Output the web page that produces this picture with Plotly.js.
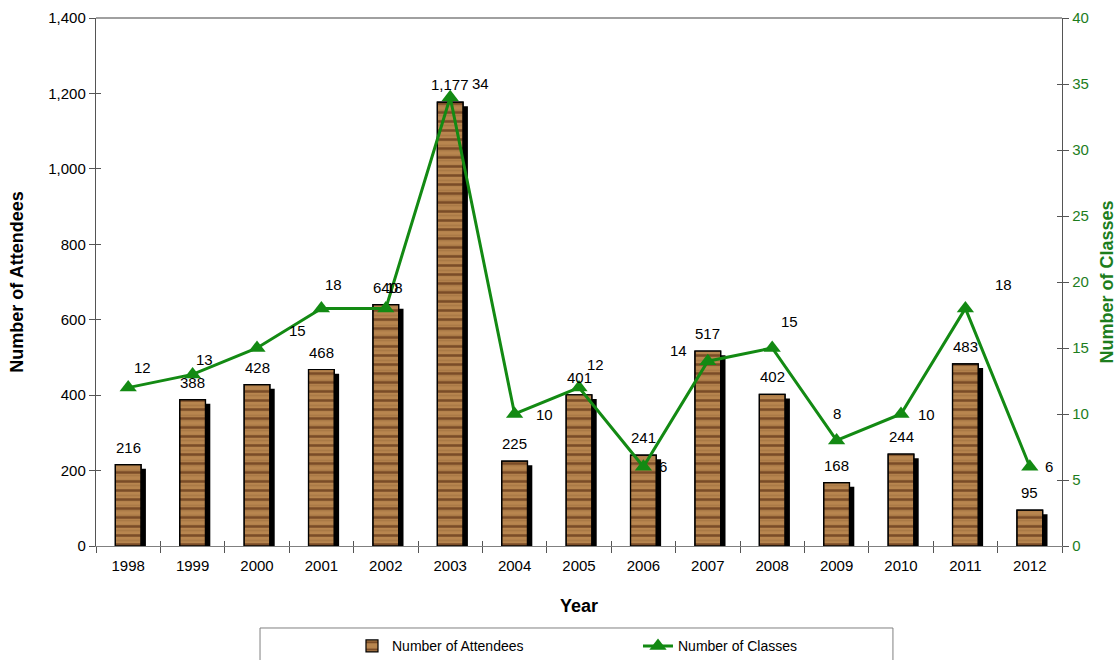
<!DOCTYPE html>
<html>
<head>
<meta charset="utf-8">
<script src="https://cdn.plot.ly/plotly-3.0.1.min.js"></script>
<style>
  html, body { margin: 0; padding: 0; background: #ffffff; }
  #chart { width: 1117px; height: 660px; }
</style>
</head>
<body>
<div id="chart"></div>
<script>
// ---- data ----
var years = ['1998','1999','2000','2001','2002','2003','2004','2005','2006','2007','2008','2009','2010','2011','2012'];
var attendees = [216, 388, 428, 468, 640, 1177, 225, 401, 241, 517, 402, 168, 244, 483, 95];
var classes = [12, 13, 15, 18, 18, 34, 10, 12, 6, 14, 15, 8, 10, 18, 6];

// label offsets for the class labels (pixels)
var classLabelDX = [14, 12, 40, 12, 9, 30, 30, 16, 20, -29, 17, 0, 25, 38, 19];
var classLabelDY = [20, 15, 18, 24, 21, 14, 0, 23, 0, 11, 27, 27, 0, 24, 0];

var font = 'Liberation Sans, Arial, sans-serif';
var green = '#138a13';

var shadowDrop = 11; // data units
var shadowBase = attendees.map(function(){ return -shadowDrop; });

var shadow = {
  type: 'bar', x: years, y: attendees, base: shadowBase,
  width: 0.4, offset: -0.2 + 0.075,
  marker: { color: '#000000', line: { width: 0 } },
  hoverinfo: 'skip', showlegend: false
};
var bars = {
  type: 'bar', x: years, y: attendees, name: 'Number of Attendees',
  width: 0.4, offset: -0.2,
  marker: {
    color: '#a8743f',
    line: { color: '#000000', width: 1.2 },
    pattern: { shape: '-', fgcolor: '#7a4c27', bgcolor: '#b8864f', size: 9, solidity: 0.28, fillmode: 'replace' }
  }
};
var grain = {
  type: 'bar', x: years, y: attendees,
  width: 0.4, offset: -0.2,
  marker: {
    color: 'rgba(0,0,0,0)',
    line: { color: '#000000', width: 1.2 },
    pattern: { shape: '-', fgcolor: 'rgba(120,80,40,0.45)', bgcolor: 'rgba(0,0,0,0)', size: 5, solidity: 0.35, fillmode: 'overlay' }
  },
  hoverinfo: 'skip', showlegend: false
};
var line = {
  type: 'scatter', mode: 'lines+markers', x: years, y: classes, yaxis: 'y2',
  name: 'Number of Classes',
  line: { color: green, width: 3 },
  marker: { symbol: 'triangle-up', size: 15, color: green },
  cliponaxis: false
};
// invisible helpers so the inner tick halves get drawn
var tickHelperA = {
  type: 'scatter', mode: 'markers', x: years, y: attendees, xaxis: 'x2', yaxis: 'y3',
  marker: { opacity: 0 }, hoverinfo: 'skip', showlegend: false
};
var tickHelperB = {
  type: 'scatter', mode: 'markers', x: years, y: classes, xaxis: 'x', yaxis: 'y4',
  marker: { opacity: 0 }, hoverinfo: 'skip', showlegend: false
};

var annotations = [];
for (var i = 0; i < years.length; i++) {
  annotations.push({
    x: i, y: attendees[i], xref: 'x', yref: 'y',
    text: attendees[i].toLocaleString('en-US'),
    showarrow: false, yanchor: 'bottom', yshift: 7,
    font: { family: font, size: 15, color: '#000' }
  });
  annotations.push({
    x: i, y: classes[i], xref: 'x', yref: 'y2',
    text: String(classes[i]),
    showarrow: false, xshift: classLabelDX[i], yshift: classLabelDY[i],
    font: { family: font, size: 15, color: '#000' }
  });
}

var layout = {
  width: 1117, height: 660,
  margin: { l: 96, r: 55, t: 18, b: 114 },
  paper_bgcolor: '#ffffff', plot_bgcolor: '#ffffff',
  barmode: 'overlay',
  showlegend: true,
  font: { family: font, size: 14, color: '#000' },
  xaxis: {
    type: 'category', range: [-0.5, 14.5], tickson: 'boundaries', ticks: 'outside', ticklen: 6, tickcolor: '#555',
    showline: true, linecolor: '#808080', linewidth: 1.2, showgrid: false, zeroline: false,
    ticklabelstandoff: 6, automargin: false,
    tickfont: { family: font, size: 15, color: '#000' },
    title: { text: 'Year', font: { family: font, size: 18, color: '#000', weight: 'bold' }, standoff: 26 }
  },
  xaxis2: {
    type: 'category', overlaying: 'x', anchor: 'y', side: 'bottom', range: [-0.5, 14.5], tickson: 'boundaries',
    ticks: 'inside', ticklen: 5, tickcolor: '#555', showticklabels: false, showline: false, showgrid: false, zeroline: false, automargin: false
  },
  yaxis: {
    range: [0, 1400], dtick: 200, tickformat: ',', ticks: 'outside', ticklen: 6, tickcolor: '#555',
    showline: true, linecolor: '#555', linewidth: 1.2, showgrid: false, zeroline: false,
    automargin: false,
    tickfont: { family: font, size: 15, color: '#000' },
    title: { text: 'Number of Attendees', font: { family: font, size: 18, color: '#000', weight: 'bold' }, standoff: 20 }
  },
  yaxis3: {
    overlaying: 'y', anchor: 'x2', side: 'left', range: [0, 1400], dtick: 200, ticks: 'inside', ticklen: 5, tickcolor: '#555',
    showticklabels: false, showline: false, showgrid: false, zeroline: false, automargin: false
  },
  yaxis2: {
    overlaying: 'y', side: 'right', range: [0, 40], dtick: 5, ticks: 'outside', ticklen: 6, tickcolor: '#555',
    showline: true, linecolor: '#555', linewidth: 1.2, showgrid: false, zeroline: false,
    automargin: false,
    tickfont: { family: font, size: 15, color: '#1d7d1d' },
    title: { text: 'Number of Classes', font: { family: font, size: 18, color: '#1d7d1d', weight: 'bold' }, standoff: 18 }
  },
  yaxis4: {
    overlaying: 'y', anchor: 'x', side: 'right', range: [0, 40], dtick: 5, ticks: 'inside', ticklen: 5, tickcolor: '#555',
    showticklabels: false, showline: false, showgrid: false, zeroline: false, automargin: false
  },
  legend: {
    orientation: 'h', xref: 'paper', yref: 'container', x: 0.265, y: 0.045, xanchor: 'left', yanchor: 'top',
    entrywidth: 241, entrywidthmode: 'pixels',
    font: { family: font, size: 14, color: '#000' },
    bgcolor: 'rgba(0,0,0,0)', borderwidth: 0, itemwidth: 30
  },
  shapes: [
    { type: 'line', xref: 'paper', yref: 'paper', x0: 0, x1: 1, y0: 1, y1: 1, line: { color: '#808080', width: 1.5 } },
    { type: 'rect', xref: 'paper', yref: 'paper', x0: 0.1698, x1: 0.8250, y0: -0.1553, y1: -0.26, line: { color: '#808080', width: 1 }, fillcolor: 'rgba(0,0,0,0)' }
  ],
  annotations: annotations
};

Plotly.newPlot('chart', [shadow, bars, grain, line, tickHelperA, tickHelperB], layout, { displayModeBar: false, staticPlot: true });
</script>
</body>
</html>
